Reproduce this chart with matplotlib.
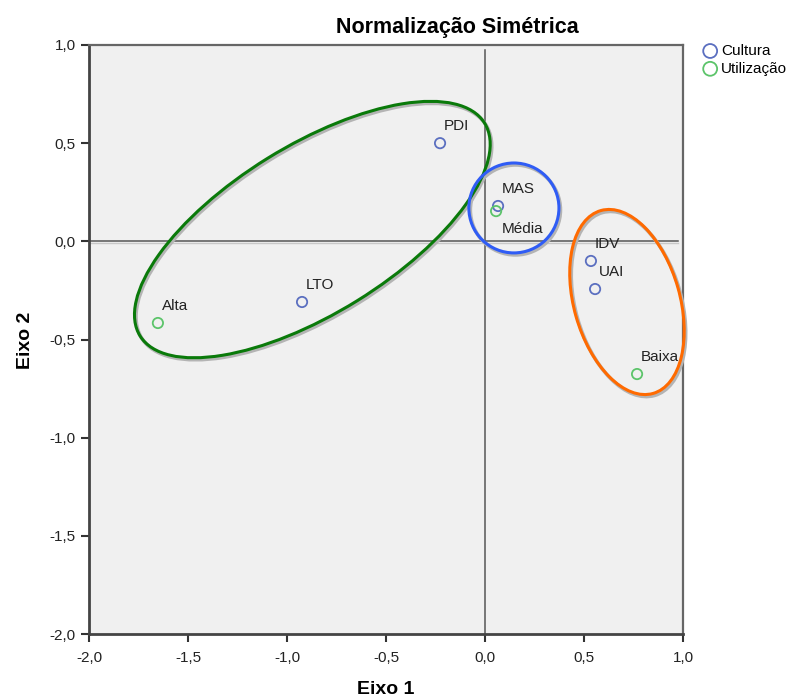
import matplotlib
matplotlib.use("Agg")
import matplotlib.pyplot as plt
from matplotlib.patches import Ellipse
from matplotlib.ticker import FuncFormatter
import matplotlib.transforms as mtransforms

plt.rcParams['font.family'] = ['Liberation Sans', 'DejaVu Sans']

# Data
cultura_labels = ["PDI", "MAS", "IDV", "UAI", "LTO"]
cultura_x = [-0.227, 0.066, 0.535, 0.556, -0.924]
cultura_y = [0.50, 0.18, -0.10, -0.243, -0.309]

util_labels = ["Alta", "Média", "Baixa"]
util_x = [-1.652, 0.056, 0.768]
util_y = [-0.416, 0.154, -0.676]

x_ticks = [-2.0, -1.5, -1.0, -0.5, 0.0, 0.5, 1.0]
y_ticks = [-2.0, -1.5, -1.0, -0.5, 0.0, 0.5, 1.0]

# Ellipse annotations: (cx, cy, width, height, angle, color)
ellipses = [
    (-0.872, 0.060, 2.05, 0.855, 32.0, "#0a7a0a"),
    (0.146, 0.170, 0.455, 0.458, 0.0, "#2f5cf5"),
    (0.717, -0.309, 0.535, 0.968, 15.75, "#ff6a00"),
]

blue_c = "#5b6fc0"
green_c = "#5cc46a"

fig = plt.figure(figsize=(7.97, 7.0), dpi=100)
ax = fig.add_axes([89/797, 66/700, 594/797, 589/700])
ax.set_facecolor("#f0f0f0")
ax.set_xlim(-2, 1)
ax.set_ylim(-2, 1)

# reference lines with light shadow
shadow = mtransforms.offset_copy(ax.transData, fig=fig, x=0, y=-2, units='dots')
ax.plot([-2, 0.975], [0, 0], color="#c8c8c8", lw=1.0, transform=shadow, zorder=1)
ax.plot([-2, 0.975], [0, 0], color="#555555", lw=1.1, zorder=2)
ax.plot([0, 0], [-2, 0.975], color="#555555", lw=1.1, zorder=2)

# ellipses with shadow
sh = mtransforms.offset_copy(ax.transData, fig=fig, x=1.5, y=-2, units='dots')
for cx, cy, w, h, ang, col in ellipses:
    ax.add_patch(Ellipse((cx, cy), w, h, angle=ang, fill=False, ec="#b4b4b4",
                         lw=2.6, transform=sh, zorder=3, clip_on=False))
    ax.add_patch(Ellipse((cx, cy), w, h, angle=ang, fill=False, ec=col,
                         lw=2.2, zorder=4, clip_on=False))

ax.scatter(cultura_x, cultura_y, s=55, facecolors='none', edgecolors=blue_c,
           linewidths=1.3, zorder=5, label="Cultura")
ax.scatter(util_x, util_y, s=55, facecolors='none', edgecolors=green_c,
           linewidths=1.3, zorder=5, label="Utilização")

for lab, x, y in zip(cultura_labels + util_labels, cultura_x + util_x, cultura_y + util_y):
    if lab == "Média":
        ax.annotate(lab, (x, y), xytext=(4, -8), textcoords='offset points',
                    ha='left', va='top', fontsize=11, color="#222222", zorder=6)
    else:
        ax.annotate(lab, (x, y), xytext=(3, 7), textcoords='offset points',
                    ha='left', va='bottom', fontsize=11, color="#222222", zorder=6)

fmt = FuncFormatter(lambda v, p: f"{v:.1f}".replace(".", ","))
ax.set_xticks(x_ticks)
ax.set_yticks(y_ticks)
ax.xaxis.set_major_formatter(fmt)
ax.yaxis.set_major_formatter(fmt)
ax.tick_params(direction='out', length=6, width=1.5, color="#333333",
               labelsize=11, labelcolor="#222222")
ax.tick_params(axis='x', pad=6)

for s in ["left", "bottom"]:
    ax.spines[s].set_color("#444444")
    ax.spines[s].set_linewidth(2.0)
for s in ["top", "right"]:
    ax.spines[s].set_color("#666666")
    ax.spines[s].set_linewidth(1.6)

fig.text(386/797, 1 - 690/700, "Eixo 1", ha='center', va='center',
         fontsize=14, fontweight='bold')
fig.text(26/797, 1 - 340/700, "Eixo 2", ha='center', va='center',
         fontsize=14, fontweight='bold', rotation=90)

fig.text(457/797, 1 - 28/700, "Normalização Simétrica", ha='center', va='center',
         fontsize=15.5, fontweight='bold')

h, l = ax.get_legend_handles_labels()
fig.legend(h, l, loc='upper left', bbox_to_anchor=(701/797, 1 - 44/700),
           frameon=False, fontsize=11, handletextpad=0.1, labelspacing=0.25,
           borderaxespad=0, borderpad=0, handlelength=1.2, markerscale=1.35)

fig.savefig("out.png", dpi=100)
